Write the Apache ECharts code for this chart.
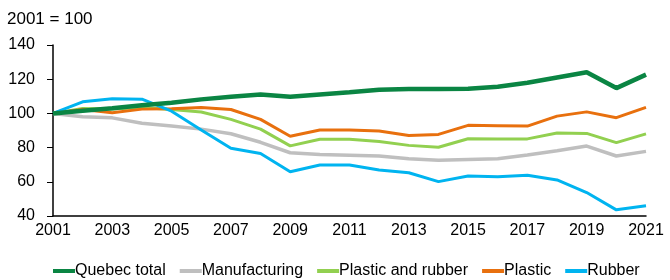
<!DOCTYPE html>
<html><head><meta charset="utf-8">
<script src="https://cdn.jsdelivr.net/npm/echarts@6/dist/echarts.min.js"></script>
<style>html,body{margin:0;padding:0;background:#fff}#c{width:670px;height:280px}</style>
</head><body><div id="c"></div>
<script>
const years = ['2001','2002','2003','2004','2005','2006','2007','2008','2009','2010','2011','2012','2013','2014','2015','2016','2017','2018','2019','2020','2021'];
const quebecTotal = [100,101.5,103,104.7,106.2,108.2,109.7,111.1,109.7,111.1,112.4,113.8,114.2,114.2,114.4,115.6,117.9,121,124.1,114.8,122.7];
const manufacturing = [100,98,97.4,94.2,92.6,90.8,88.1,83.1,77,75.9,75.5,75.1,73.5,72.6,73.1,73.5,75.7,78.2,80.9,75.1,77.8];
const plasticRubber = [100,102.9,102.6,103.5,102.3,100.8,96.5,90.8,81,84.9,84.9,83.6,81.3,80.2,85.2,85.1,85.1,88.5,88.3,82.9,88];
const plastic = [100,102.3,100.4,102.5,102.7,103.5,102.3,96.5,86.6,90.3,90.3,89.7,87.1,87.7,93,92.8,92.6,98.4,100.9,97.5,103.5];
const rubber = [100,106.8,108.5,108.3,101.3,90.3,79.6,76.6,65.9,69.8,69.8,66.9,65.3,60.1,63.4,63,63.8,61.1,53.7,43.6,46];
const names = ['Quebec total','Manufacturing','Plastic and rubber','Plastic','Rubber'];
const colors = ['#0a8543','#bfbfbf','#92d050','#e8700e','#00b4f0'];
const widths = [4.5,3.5,3,3,3];
const datasets = [quebecTotal, manufacturing, plasticRubber, plastic, rubber];
const font = 'Liberation Sans';
const chart = echarts.init(document.getElementById('c'), null, {renderer:'canvas'});
const order = [1,2,3,4,0];
chart.setOption({
  animation:false,
  color: colors,
  graphic:[{type:'text', left:7, top:11, style:{text:'2001 = 100', font:'17px "Liberation Sans"', fill:'#000'}}],
  grid:{left:53, right:24, top:45, bottom:64},
  legend:{top:258, left:48, itemWidth:22, itemHeight:4, itemGap:14, icon:'rect',
    textStyle:{fontFamily:font, fontSize:16, color:'#000', padding:[0,0,0,-5]}, data:names},
  xAxis:{type:'category', data:years, boundaryGap:false,
    axisLine:{lineStyle:{color:'#000', width:1.5}}, axisTick:{show:false},
    axisLabel:{interval:1, fontFamily:font, fontSize:16, color:'#000', margin:7}},
  yAxis:{type:'value', min:40, max:140, interval:20,
    axisLine:{show:true, lineStyle:{color:'#000', width:1.5}},
    axisTick:{show:true, inside:false, length:6, lineStyle:{color:'#000'}},
    splitLine:{show:false},
    axisLabel:{fontFamily:font, fontSize:16, color:'#000', margin:18}},
  series: order.map(i => ({name:names[i], type:'line', data:datasets[i], symbol:'none',
    lineStyle:{color:colors[i], width:widths[i]}, itemStyle:{color:colors[i]}, z: i===0?5:2}))
});
</script></body></html>
